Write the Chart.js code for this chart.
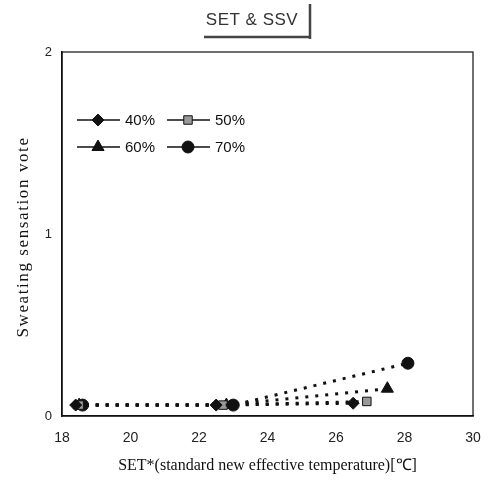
<!DOCTYPE html>
<html>
<head>
<meta charset="utf-8">
<script src="https://cdn.jsdelivr.net/npm/chart.js@4"></script>
<style>
  html, body { margin: 0; padding: 0; background: #fff; }
  #wrap { width: 488px; height: 488px; }
</style>
</head>
<body>
<div id="wrap"><canvas id="myChart" width="488" height="488"></canvas></div>
<script>
// SET* (x) and sweating sensation vote (y) for each humidity level
const seriesLabels = ['40%', '50%', '60%', '70%'];
const set40 = [18.4, 22.5, 26.5];
const ssv40 = [0.06, 0.06, 0.07];
const set50 = [18.5, 22.7, 26.9];
const ssv50 = [0.06, 0.06, 0.08];
const set60 = [18.5, 22.8, 27.5];
const ssv60 = [0.06, 0.06, 0.15];
const set70 = [18.6, 23.0, 28.1];
const ssv70 = [0.06, 0.06, 0.29];
const xTicks = [18, 20, 22, 24, 26, 28, 30];
const yTicks = [0, 1, 2];

function toPoints(xs, ys) {
    return xs.map((x, i) => ({ x: x, y: ys[i] }));
}

const markerStyles = [
    { pointStyle: 'rectRot', radius: 6, fill: '#111', dashOffset: 0 },
    { pointStyle: 'rect', radius: 6, fill: '#999', dashOffset: 3.4 },
    { pointStyle: 'triangle', radius: 7, fill: '#111', dashOffset: 3.4 },
    { pointStyle: 'circle', radius: 6, fill: '#111', dashOffset: 6.8 }
];
const allData = [toPoints(set40, ssv40), toPoints(set50, ssv50), toPoints(set60, ssv60), toPoints(set70, ssv70)];

const datasets = allData.map((pts, i) => ({
    label: seriesLabels[i],
    data: pts,
    showLine: true,
    borderColor: '#111',
    borderWidth: 3,
    borderDash: [3, 7],
    borderDashOffset: markerStyles[i].dashOffset,
    backgroundColor: markerStyles[i].fill,
    pointBackgroundColor: markerStyles[i].fill,
    pointBorderColor: '#111',
    pointBorderWidth: 1,
    pointStyle: markerStyles[i].pointStyle,
    pointRadius: markerStyles[i].radius,
    tension: 0
}));

// legend drawn inside the plot, two columns
const insideLegend = {
    id: 'insideLegend',
    afterDraw(chart) {
        const c = chart.ctx;
        const area = chart.chartArea;
        const spots = [[0, 0], [1, 0], [0, 1], [1, 1]];
        c.save();
        c.font = '15px "Liberation Sans", Arial, sans-serif';
        c.textBaseline = 'middle';
        chart.data.datasets.forEach((ds, i) => {
            const x0 = area.left + 15 + spots[i][0] * 90;
            const y0 = area.top + 68 + spots[i][1] * 27;
            c.strokeStyle = '#111';
            c.lineWidth = 1.5;
            c.setLineDash([]);
            c.beginPath();
            c.moveTo(x0, y0);
            c.lineTo(x0 + 43, y0);
            c.stroke();
            c.fillStyle = ds.pointBackgroundColor;
            c.strokeStyle = '#111';
            c.lineWidth = 1;
            Chart.helpers.drawPoint(c, { pointStyle: ds.pointStyle, radius: ds.pointRadius, borderWidth: 1 }, x0 + 21, y0);
            c.fillStyle = '#111';
            c.fillText(ds.label, x0 + 48, y0 + 1);
        });
        c.restore();
    }
};

// title at the top and the spaced-out y axis title
const extraText = {
    id: 'extraText',
    afterDraw(chart) {
        const c = chart.ctx;
        c.save();
        c.fillStyle = '#333';
        c.font = '17px "Liberation Sans", Arial, sans-serif';
        c.textAlign = 'center';
        c.textBaseline = 'middle';
        c.letterSpacing = '0.5px';
        c.fillText('SET & SSV', 252, 20);
        c.strokeStyle = '#444';
        c.lineWidth = 2.5;
        c.beginPath();
        c.moveTo(204, 37);
        c.lineTo(311, 37);
        c.moveTo(310, 4);
        c.lineTo(310, 39);
        c.stroke();
        c.restore();

        c.save();
        c.translate(24, 237);
        c.rotate(-Math.PI / 2);
        c.fillStyle = '#111';
        c.textAlign = 'center';
        c.textBaseline = 'middle';
        c.font = '17px "Liberation Serif", "Times New Roman", serif';
        c.letterSpacing = '1.6px';
        c.fillText('Sweating sensation vote', 0, 0);
        c.restore();
    }
};

const ctx = document.getElementById('myChart').getContext('2d');
const myChart = new Chart(ctx, {
    type: 'scatter',
    data: { datasets: datasets },
    options: {
        responsive: false,
        animation: false,
        layout: { padding: { top: 52, right: 15, left: 0, bottom: 0 } },
        plugins: {
            legend: { display: false },
            tooltip: { enabled: false }
        },
        scales: {
            x: {
                type: 'linear',
                min: 18,
                max: 30,
                afterBuildTicks: (scale) => { scale.ticks = xTicks.map(v => ({ value: v })); },
                afterFit: (scale) => { scale.height = 72; scale.paddingRight = 0; },
                grid: { display: false, drawTicks: false },
                border: { display: true, color: '#111', width: 1.5 },
                ticks: {
                    color: '#222',
                    padding: 14,
                    maxRotation: 0,
                    font: { family: '"Liberation Sans", Arial, sans-serif', size: 14 }
                },
                title: {
                    display: true,
                    text: 'SET*(standard new effective temperature)[℃]',
                    color: '#111',
                    font: { family: '"Liberation Serif", "Times New Roman", serif', size: 16 },
                    padding: { top: 4, bottom: 13 }
                }
            },
            y: {
                min: 0,
                max: 2,
                afterBuildTicks: (scale) => { scale.ticks = yTicks.map(v => ({ value: v })); },
                afterFit: (scale) => { scale.width = 62; },
                grid: { display: false, drawTicks: false },
                border: { display: true, color: '#111', width: 1.5 },
                ticks: {
                    color: '#222',
                    padding: 10,
                    font: { family: '"Liberation Sans", Arial, sans-serif', size: 13 }
                },
                title: { display: false }
            }
        }
    },
    plugins: [
        insideLegend,
        extraText,
        {
            id: 'frame',
            afterDraw(chart) {
                const a = chart.chartArea;
                const c = chart.ctx;
                c.save();
                c.strokeStyle = '#111';
                c.lineWidth = 1.2;
                c.strokeRect(a.left, a.top, a.right - a.left, a.bottom - a.top);
                c.restore();
            }
        }
    ]
});
</script>
</body>
</html>
